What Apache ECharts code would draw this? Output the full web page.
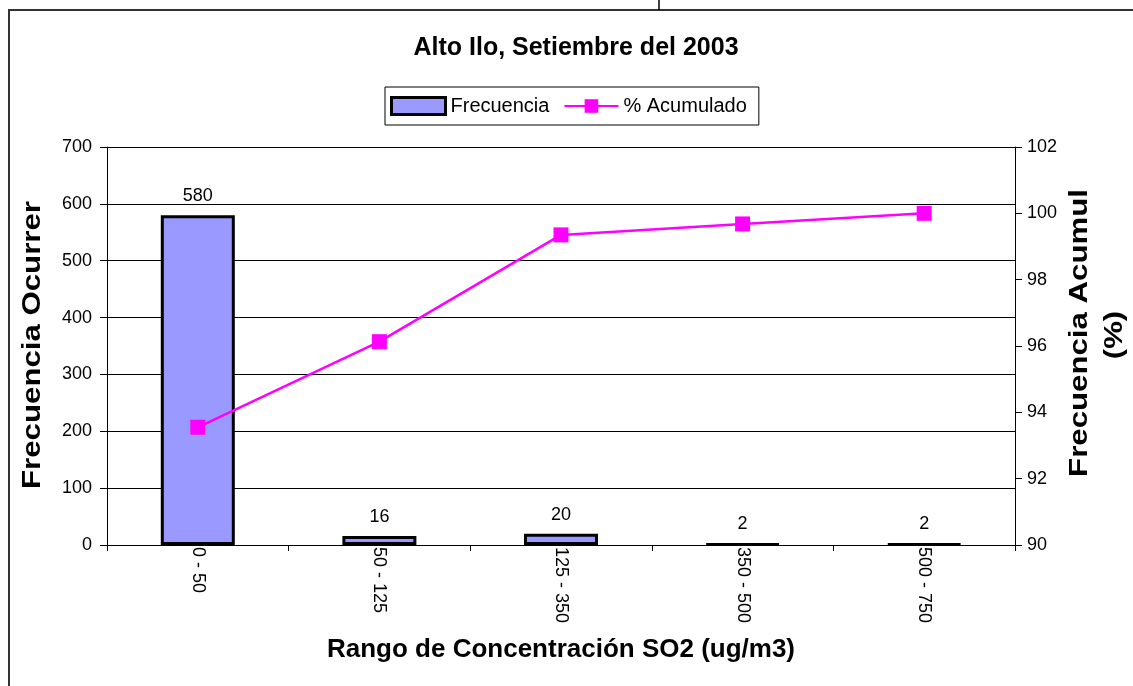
<!DOCTYPE html>
<html><head><meta charset="utf-8">
<script src="https://cdn.jsdelivr.net/npm/echarts@6/dist/echarts.min.js"></script>
<style>html,body{margin:0;padding:0;background:#fff}#c{width:1133px;height:686px}</style>
</head><body><div id="c"></div>
<script>
const categories = ['0 - 50', '50 - 125', '125 - 350', '350 - 500', '500 - 750'];
const frecuencia = [580, 16, 20, 2, 2];
const acumulado = [93.55, 96.13, 99.35, 99.68, 100];
const leftTicks = [0, 700, 100];
const rightTicks = [90, 102, 2];

const font = '"Liberation Sans", Arial, sans-serif';
const chart = echarts.init(document.getElementById('c'));
const nameStyle = { font: 'bold 26px ' + font, fill: '#000', textAlign: 'center', textVerticalAlign: 'middle' };
chart.setOption({
  backgroundColor: '#fff',
  animation: false,
  textStyle: { fontFamily: font, color: '#000' },
  title: {
    text: 'Alto Ilo, Setiembre del 2003',
    left: 571, top: 31, textAlign: 'center',
    textStyle: { fontFamily: font, fontSize: 25, fontWeight: 'bold', color: '#000' }
  },
  legend: {
    left: 385, top: 87,
    padding: [9, 12, 9, 5],
    itemGap: 14,
    itemWidth: 54, itemHeight: 17,
    borderColor: '#000', borderWidth: 1,
    textStyle: { fontFamily: font, fontSize: 20, color: '#000' },
    data: [
      { name: 'Frecuencia', icon: 'rect', itemStyle: { color: '#9999FF', borderColor: '#000', borderWidth: 3 } },
      { name: '% Acumulado' }
    ]
  },
  grid: { left: 107, right: 118, top: 147, bottom: 141, containLabel: false },
  xAxis: {
    type: 'category',
    data: categories,
    name: 'Rango de Concentración SO2 (ug/m3)',
    nameLocation: 'middle', nameGap: 92,
    nameTextStyle: { fontFamily: font, fontSize: 26, fontWeight: 'bold', color: '#000' },
    axisLine: { lineStyle: { color: '#000', width: 1 } },
    axisTick: { show: true, length: 6, lineStyle: { color: '#000' } },
    axisLabel: { rotate: -90, margin: 2, fontSize: 18, color: '#000', fontFamily: font, interval: 0 }
  },
  yAxis: [
    {
      type: 'value', min: leftTicks[0], max: leftTicks[1], interval: leftTicks[2],
      axisLine: { show: true, lineStyle: { color: '#000', width: 1 } },
      axisTick: { show: true, length: 7, lineStyle: { color: '#000' } },
      axisLabel: { fontSize: 18, color: '#000', margin: 15, fontFamily: font },
      splitLine: { show: true, lineStyle: { color: '#000', width: 1 } }
    },
    {
      type: 'value', min: rightTicks[0], max: rightTicks[1], interval: rightTicks[2],
      axisLine: { show: true, lineStyle: { color: '#000', width: 1 } },
      axisTick: { show: true, length: 7, lineStyle: { color: '#000' } },
      axisLabel: { fontSize: 18, color: '#000', margin: 12, fontFamily: font },
      splitLine: { show: false }
    }
  ],
  series: [
    {
      name: 'Frecuencia', type: 'bar', yAxisIndex: 0, data: frecuencia,
      barWidth: 74,
      itemStyle: { color: '#9999FF', borderColor: '#000', borderWidth: 3 },
      label: { show: true, position: 'top', distance: 10, fontSize: 18, color: '#000', fontFamily: font }
    },
    {
      name: '% Acumulado', type: 'line', yAxisIndex: 1, data: acumulado,
      symbol: 'rect', symbolSize: 15,
      lineStyle: { color: '#FF00FF', width: 2.5 },
      itemStyle: { color: '#FF00FF' }
    }
  ],
  graphic: [
    { type: 'line', shape: { x1: 9, y1: 10, x2: 9, y2: 686 }, style: { stroke: '#333', lineWidth: 2 } },
    { type: 'line', shape: { x1: 8, y1: 10, x2: 1133, y2: 10 }, style: { stroke: '#333', lineWidth: 2 } },
    { type: 'line', shape: { x1: 659, y1: 0, x2: 659, y2: 10 }, style: { stroke: '#000', lineWidth: 1.5 } },
    { type: 'text', x: 33, y: 345, rotation: Math.PI / 2, scaleX: 1.2,
      style: Object.assign({ text: 'Frecuencia Ocurrer' }, nameStyle) },
    { type: 'text', x: 1080, y: 333, rotation: Math.PI / 2, scaleX: 1.2,
      style: Object.assign({ text: 'Frecuencia Acumul' }, nameStyle) },
    { type: 'text', x: 1115, y: 335, rotation: Math.PI / 2, scaleX: 1.2,
      style: Object.assign({ text: '(%)' }, nameStyle) }
  ]
});
</script></body></html>
